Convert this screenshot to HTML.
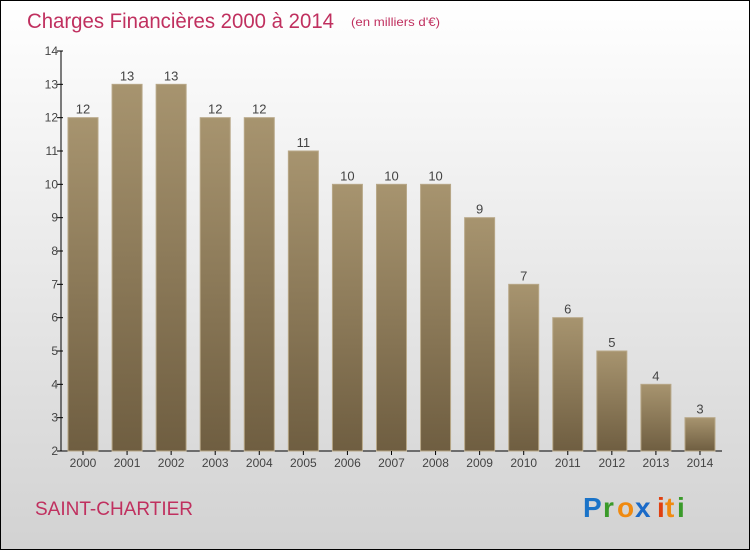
<!DOCTYPE html>
<html><head><meta charset="utf-8"><style>
body{margin:0;width:750px;height:550px;overflow:hidden;font-family:"Liberation Sans",sans-serif}
#c{position:absolute;left:0;top:0;width:748px;height:548px;border:1px solid #000;background:linear-gradient(#ffffff,#d2d2d2)}
</style></head><body>
<div id="c">
<svg width="748" height="548" id="s">
<defs><linearGradient id="bg" x1="0" y1="0" x2="0" y2="1"><stop offset="0" stop-color="#a7946f"/><stop offset="1" stop-color="#6f5e41"/></linearGradient></defs>
<text x="26" y="27" font-size="21" fill="#c0305f" textLength="307" lengthAdjust="spacingAndGlyphs">Charges Financières 2000 à 2014</text>
<text x="350" y="25" font-size="12" fill="#c0305f" textLength="89" lengthAdjust="spacingAndGlyphs">(en milliers d'€)</text>
<text x="34" y="514" font-size="19" fill="#c0305f">SAINT-CHARTIER</text>
<g font-size="28" font-weight="bold" font-family="'Liberation Sans',sans-serif">
<text x="582" y="516" fill="#1a73c8">P</text><text x="602" y="516" fill="#3a9a2a">r</text><text x="616" y="516" fill="#f08a10">o</text><text x="634" y="516" fill="#1a6ac8">x</text><text x="656" y="516" fill="#e04010">i</text><text x="664" y="516" fill="#f08a10">t</text><text x="676" y="516" fill="#3a9a2a">i</text>
</g>
<g id="g"></g>
</svg></div>
<script>
const years=["2000","2001","2002","2003","2004","2005","2006","2007","2008","2009","2010","2011","2012","2013","2014"];
const values=[12,13,13,12,12,11,10,10,10,9,7,6,5,4,3];
const yTicks=[2,3,4,5,6,7,8,9,10,11,12,13,14];
const NS="http://www.w3.org/2000/svg",g=document.getElementById('g');
const y=v=>450-(v-2)*400/12, x=i=>82+i*44.07;
function mk(t,a){const e=document.createElementNS(NS,t);for(const k in a)e.setAttribute(k,a[k]);g.appendChild(e);return e;}
let e=mk('line',{x1:60,y1:50,x2:60,y2:450,stroke:'#000'});


e=mk('line',{x1:60,y1:450,x2:721,y2:450,stroke:'#000'});


yTicks.forEach(t=>{
 let l=mk('line',{x1:56,y1:y(t),x2:62,y2:y(t),stroke:'#000'});
 
 
 let tx=mk('text',{x:57,y:y(t)+4,'font-size':12,fill:'#444','text-anchor':'end'});tx.textContent=t;
 
 
});
values.forEach((v,i)=>{
 let r=mk('rect',{x:x(i)-15,y:y(v),width:30,height:450-y(v),fill:'url(#bg)',stroke:'#b8a888','stroke-width':1});
 
 
 let t=mk('text',{x:x(i),y:y(v)-4,'font-size':13,fill:'#444','text-anchor':'middle'});t.textContent=v;
 
 
 let k=mk('line',{x1:x(i),y1:450,x2:x(i),y2:454,stroke:'#000'});
 
 
 let xl=mk('text',{x:x(i),y:466,'font-size':12,fill:'#444','text-anchor':'middle'});xl.textContent=years[i];
 
 
});
</script>
</body></html>
